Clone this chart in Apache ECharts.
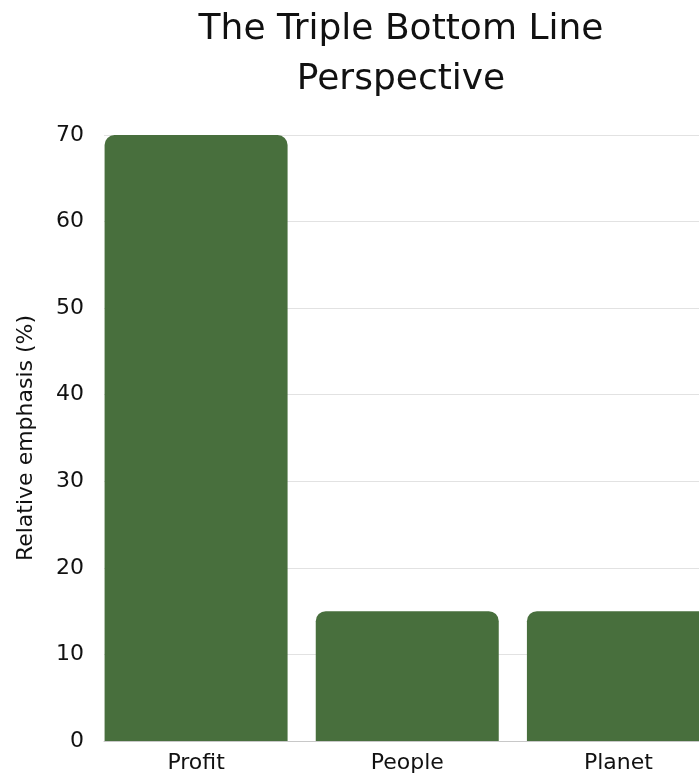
<!DOCTYPE html>
<html>
<head>
<meta charset="utf-8">
<script src="https://cdn.jsdelivr.net/npm/echarts@6/dist/echarts.min.js"></script>
<style>html,body{margin:0;padding:0;background:#fff;overflow:hidden}#c{width:724px;height:776px}</style>
</head>
<body>
<div id="c"></div>
<script>
const titleLines = ['The Triple Bottom Line', 'Perspective'];
const categories = ['Profit', 'People', 'Planet'];
const values = [70, 15, 15];
const yTicks = { min: 0, max: 70, interval: 10 };
const yName = 'Relative emphasis (%)';

const FONT = '"DejaVu Sans"';
const chart = echarts.init(document.getElementById('c'), null, { renderer: 'canvas' });
chart.setOption({
  backgroundColor: '#ffffff',
  animation: false,
  textStyle: { fontFamily: FONT },
  graphic: titleLines.map((t, i) => ({
    type: 'text', x: 401, y: 30 + i * 50,
    style: {
      text: t, textAlign: 'center', textVerticalAlign: 'middle',
      fontSize: 36, fontFamily: 'DejaVu Sans', fill: '#111'
    }
  })),
  grid: [
    { left: 90.5, right: 0, top: 135, bottom: 35 },
    { left: 104, right: 0, top: 135, bottom: 35 }
  ],
  xAxis: [
    { type: 'category', gridIndex: 0, data: categories,
      axisLine: { show: false }, axisTick: { show: false },
      axisLabel: { color: '#111', fontSize: 22, fontFamily: FONT, margin: 11 } },
    { type: 'value', gridIndex: 1, show: true, min: 0, max: 1,
      axisLabel: { show: false }, axisTick: { show: false }, splitLine: { show: false },
      axisLine: { show: true, lineStyle: { color: '#c8c8c8', width: 1 } } }
  ],
  yAxis: [
    { type: 'value', gridIndex: 0, min: yTicks.min, max: yTicks.max, interval: yTicks.interval, show: false },
    { type: 'value', gridIndex: 1, min: yTicks.min, max: yTicks.max, interval: yTicks.interval,
      name: yName, nameLocation: 'middle', nameGap: 67,
      nameTextStyle: { color: '#111', fontSize: 22, fontFamily: FONT },
      axisLine: { show: false }, axisTick: { show: false },
      axisLabel: { color: '#111', fontSize: 22, fontFamily: FONT, margin: 20 },
      splitLine: { lineStyle: { color: '#e2e2e2', width: 1 } } }
  ],
  series: [{
    type: 'bar', xAxisIndex: 0, yAxisIndex: 0, data: values, z: 3,
    barWidth: 183,
    itemStyle: { color: '#486f3d', borderRadius: [10, 10, 0, 0] }
  }]
});
</script>
</body>
</html>
